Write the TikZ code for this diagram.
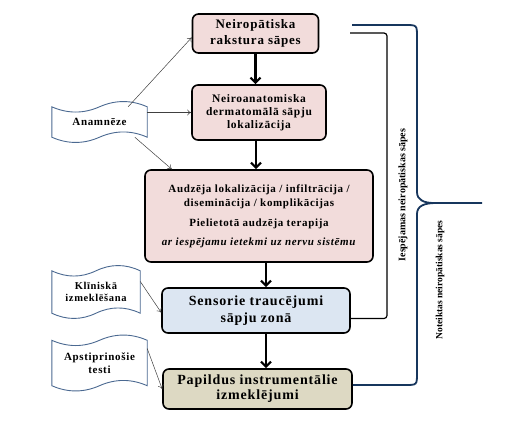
\documentclass[tikz,border=0pt]{standalone}
\usepackage{fontspec}
\setmainfont{Liberation Serif}
\newfontfamily\boxfont[LetterSpace=6]{Liberation Serif}
\usetikzlibrary{arrows.meta,calc}
\definecolor{pinkbox}{RGB}{242,220,219}
\definecolor{bluebox}{RGB}{220,230,242}
\definecolor{tanbox}{RGB}{221,217,195}
\definecolor{wavecol}{RGB}{75,105,145}
\definecolor{bracecol}{RGB}{23,54,93}
% wave banner round a node: #1 name, #2 width
\newcommand{\wavedraw}[2]{%
  \draw[waveline] (#1.north west) .. controls +(#2/6,7) and +(-#2/6,7) .. (#1.north)
    .. controls +(#2/6,-7) and +(-#2/6,-7) .. (#1.north east) -- (#1.south east)
    .. controls +(-#2/6,-7) and +(#2/6,-7) .. (#1.south)
    .. controls +(-#2/6,7) and +(#2/6,7) .. (#1.south west) -- cycle;}

\begin{document}
\begin{tikzpicture}[x=1pt,y=-1pt,
flowbox/.style={draw,line width=1.6pt,rounded corners=6pt,align=center,inner sep=2pt},
wavebox/.style={align=center,inner sep=0pt},
waveline/.style={wavecol,line width=0.9pt},
thinarrow/.style={black!75,line width=0.5pt,-{To[length=4pt,width=6pt]}},
flowarrow/.style={line width=2.2pt,-{Straight Barb[length=5pt,width=10pt]}},
brk/.style={line width=1.2pt,rounded corners=3pt},
bracestyle/.style={bracecol,line width=1.8pt,rounded corners=2pt}]
\useasboundingbox (0,0) rectangle (517,423);

% main column
\node[flowbox,fill=pinkbox,minimum width=126pt,minimum height=39pt,font=\fontsize{13}{16}\boxfont\bfseries] (rakst) at (255.5,33.5) {Neiropātiska\\rakstura sāpes};
\node[flowbox,fill=pinkbox,minimum width=134pt,minimum height=55pt,font=\fontsize{11.5}{13}\boxfont\bfseries] (lokal) at (259,112.5) {Neiroanatomiska\\dermatomālā sāpju\\lokalizācija};
\node[flowbox,fill=pinkbox,minimum width=228pt,minimum height=92pt,font=\fontsize{11}{14}\boxfont\bfseries] (audz) at (259,216) {Audzēja lokalizācija / infiltrācija /\\diseminācija / komplikācijas\\[6pt]Pielietotā audzēja terapija\\[5pt]\textit{ar iespējamu ietekmi uz nervu sistēmu}};
\node[flowbox,fill=bluebox,minimum width=188pt,minimum height=45pt,font=\fontsize{14}{17}\boxfont\bfseries] (sens) at (256,310.5) {Sensorie traucējumi\\sāpju zonā};
\node[flowbox,fill=tanbox,minimum width=189pt,minimum height=40pt,font=\fontsize{14}{15}\boxfont\bfseries] (papild) at (257.5,389) {Papildus instrumentālie\\izmeklējumi};

% banners on the left
\node[wavebox,minimum width=95pt,minimum height=30pt,font=\fontsize{11}{12}\boxfont\bfseries] (anam) at (99.5,122) {Anamnēze};
\node[wavebox,minimum width=88pt,minimum height=42pt,font=\fontsize{10.5}{12}\boxfont\bfseries] (klin) at (96,292) {Klīniskā\\izmeklēšana};
\node[wavebox,minimum width=95pt,minimum height=45pt,font=\fontsize{11}{13}\boxfont\bfseries] (apst) at (99.5,363) {Apstiprinošie\\testi};
\wavedraw{anam}{95}
\wavedraw{klin}{88}
\wavedraw{apst}{95}

\draw[thinarrow] ($(anam.north west)!0.8!(anam.north east)$) -- ([yshift=-4pt]rakst.west);
\draw[thinarrow] (anam.east |- lokal.west) -- (lokal.west);
\draw[thinarrow] ($(anam.south west)!0.87!(anam.south east)$) -- ($(audz.north west)!0.12!(audz.north east)$);
\draw[thinarrow] ($(klin.north east)!0.25!(klin.south east)$) -- ([yshift=-2pt]sens.west);
\draw[thinarrow] ($(apst.north east)!0.18!(apst.south east)$) -- (papild.west);

\draw[flowarrow] (rakst.south) -- (rakst.south |- lokal.north);
\draw[flowarrow] ([xshift=-3pt]lokal.south) -- ([xshift=-3pt]lokal.south |- audz.north);
\draw[flowarrow] ([xshift=7pt]audz.south) -- ([xshift=7pt]audz.south |- sens.north);
\draw[flowarrow] ([xshift=10pt]sens.south) -- ([xshift=10pt]sens.south |- papild.north);

% right side
\coordinate (ltop) at (350,33);
\draw[brk] (ltop) -- ++(37,0) |- ([yshift=-8pt]sens.east);
\coordinate (btop) at (352,25);
\coordinate (bmid) at (436,203);
\coordinate (btip) at (482,203);
\draw[bracestyle] (btop) -- (403,25) .. controls (417,25) .. (417,39) -- (417,190)
  .. controls (417,200) and (424,203) .. (bmid) -- (btip);
\draw[bracestyle] (bmid) .. controls (424,203) and (417,206) .. (417,216) -- (417,371)
  .. controls (417,385) .. (403,385) -- ([yshift=4pt]papild.east);
\node[rotate=90,font=\fontsize{10}{12}\selectfont\bfseries] (iesp) at (403,195) {Iespējamas neiropātiskas sāpes};
\node[rotate=90,font=\fontsize{9.5}{11}\selectfont\bfseries] (notei) at (440,280) {Noteiktas neiropātiskas sāpes};
\end{tikzpicture}
\end{document}
